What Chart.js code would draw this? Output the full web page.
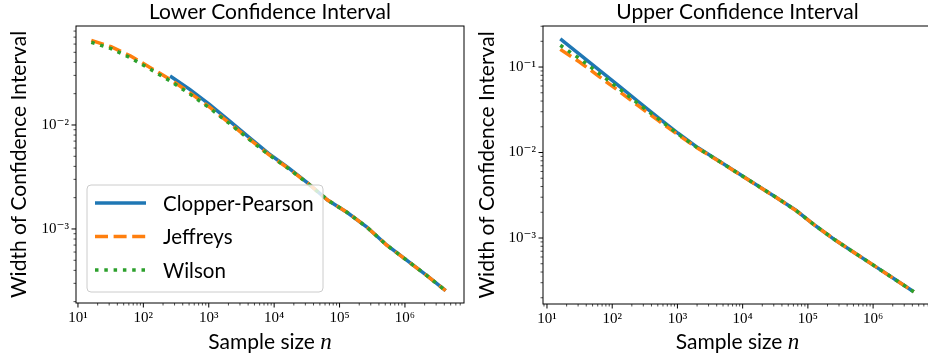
<!DOCTYPE html>
<html lang="en">
<head>
<meta charset="UTF-8">
<title>Confidence interval widths</title>
<script src="https://cdn.jsdelivr.net/npm/chart.js@4.4.1/dist/chart.umd.min.js"></script>
<style>
  html, body { margin: 0; padding: 0; background: #fff; overflow: hidden; }
  #wrap { position: relative; width: 928px; height: 358px; overflow: hidden; }
  canvas { position: absolute; top: 0; }
  #lowerChart { left: 0; }
  #upperChart { left: 470px; }
</style>
</head>
<body>
<div id="wrap">
  <canvas id="lowerChart" width="470" height="358"></canvas>
  <canvas id="upperChart" width="464" height="358"></canvas>
</div>
<script>
// sample sizes n (powers of two)
const sampleSizes = [16, 32, 64, 128, 256, 512, 1024, 2048, 4096, 8192, 16384, 32768,
  65536, 131072, 262144, 524288, 1048576, 2097152, 4194304];

// lower interval widths
const lowerClopper = [null, null, null, null, 0.0296, 0.022, 0.0158, 0.011, 0.00764, 0.00534,
  0.00388, 0.00276, 0.0019, 0.00144, 0.00104, 0.000702, 0.000505, 0.000362, 0.000255];
const lowerJeffreys = [0.0652, 0.0566, 0.046, 0.0356, 0.0275, 0.0205, 0.0149, 0.0105, 0.00738,
  0.00522, 0.00384, 0.00275, 0.0019, 0.00144, 0.00104, 0.0007, 0.000504, 0.000361, 0.000255];
const lowerWilson = [0.0625, 0.0543, 0.0442, 0.0343, 0.0266, 0.0199, 0.0146, 0.0104, 0.00733,
  0.0052, 0.00383, 0.00274, 0.0019, 0.00144, 0.00104, 0.0007, 0.000504, 0.000361, 0.000255];

// upper interval widths
const upperClopper = [0.214, 0.14, 0.0914, 0.0597, 0.039, 0.0255, 0.0168, 0.01143, 0.00817,
  0.00583, 0.00417, 0.00298, 0.00211, 0.00139, 0.000946, 0.000668, 0.000472, 0.000333, 0.000235];
const upperJeffreys = [0.161, 0.1138, 0.0769, 0.052, 0.0348, 0.0236, 0.0161, 0.0112, 0.00812,
  0.0058, 0.00416, 0.00297, 0.0021, 0.00139, 0.000946, 0.000668, 0.000472, 0.000333, 0.000235];
const upperWilson = [0.1795, 0.1247, 0.0834, 0.0557, 0.0368, 0.0247, 0.01644, 0.0113, 0.00815,
  0.00582, 0.00417, 0.00298, 0.0021, 0.00139, 0.000946, 0.000668, 0.000472, 0.000333, 0.000235];

const seriesNames = ['Clopper-Pearson', 'Jeffreys', 'Wilson'];
const xTickValues = [10, 100, 1000, 10000, 100000, 1000000];
const xTickLabels = ['10¹', '10²', '10³', '10⁴', '10⁵', '10⁶'];
const yTickValues = [0.1, 0.01, 0.001];
const yTickLabels = ['10⁻¹', '10⁻²', '10⁻³'];

const sansFont = "Lato, 'Liberation Sans', sans-serif";
const serifFont = "'Liberation Serif', 'DejaVu Serif', serif";
const styles = [
  { color: '#1f77b4', dash: [] },
  { color: '#ff7f0e', dash: [13, 5.6] },
  { color: '#2ca02c', dash: [3.5, 5.8] }
];
const lineW = 3.5;

function isDecade(v) {
  const l = Math.log10(v);
  return Math.abs(l - Math.round(l)) < 1e-9;
}

function logTicks(scale) {
  const out = [];
  const lo = Math.floor(Math.log10(scale.min));
  const hi = Math.ceil(Math.log10(scale.max));
  for (let e = lo; e <= hi; e++) {
    for (let m = 1; m <= 9; m++) {
      const v = m * Math.pow(10, e);
      if (v >= scale.min * 0.9999 && v <= scale.max * 1.0001) out.push({ value: v });
    }
  }
  scale.ticks = out;
}

function tickLabel(values, labels) {
  return function (v) {
    for (let i = 0; i < values.length; i++) {
      if (Math.abs(Math.log10(v) - Math.log10(values[i])) < 1e-9) return labels[i];
    }
    return '';
  };
}

// tick marks (long at decades, short in between), the frame and the x label with italic n
const frameAndTicks = {
  id: 'frameAndTicks',
  afterDraw(chart) {
    const { ctx, chartArea: a } = chart;
    ctx.save();
    ctx.strokeStyle = '#000';
    ['x', 'y'].forEach(id => {
      const s = chart.scales[id];
      s.ticks.forEach(t => {
        const major = isDecade(t.value);
        const len = major ? 4.5 : 2.5;
        const p = s.getPixelForValue(t.value);
        ctx.lineWidth = major ? 1 : 0.7;
        ctx.beginPath();
        if (id === 'x') {
          ctx.moveTo(p, a.bottom);
          ctx.lineTo(p, a.bottom + len);
        } else {
          ctx.moveTo(a.left, p);
          ctx.lineTo(a.left - len, p);
        }
        ctx.stroke();
      });
    });
    ctx.lineWidth = 1;
    ctx.strokeRect(a.left, a.top, a.right - a.left, a.bottom - a.top);

    // "Sample size n"
    const head = 'Sample size ';
    ctx.fillStyle = '#000';
    ctx.textBaseline = 'alphabetic';
    ctx.font = '21px ' + sansFont;
    const w1 = ctx.measureText(head).width;
    ctx.font = 'italic 23px ' + serifFont;
    const w2 = ctx.measureText('n').width;
    const cx = (a.left + Math.min(a.right, 928 - chart.canvas.offsetLeft + 0)) / 2;
    const mid = (a.left + a.right) / 2;
    const x0 = mid - (w1 + w2) / 2;
    const base = chart.height - 9;
    ctx.font = '21px ' + sansFont;
    ctx.fillText(head, x0, base);
    ctx.font = 'italic 23px ' + serifFont;
    ctx.fillText('n', x0 + w1, base);
    ctx.restore();
  }
};

// legend inside the plot, lower left
const insideLegend = {
  id: 'insideLegend',
  afterDatasetsDraw(chart, args, opts) {
    if (!opts.display) return;
    const { ctx, chartArea: a } = chart;
    const w = 236, h = 107;
    const x = a.left + 11, y = a.bottom - 11 - h;
    ctx.save();
    ctx.beginPath();
    ctx.roundRect(x, y, w, h, 4);
    ctx.fillStyle = 'rgba(255,255,255,0.8)';
    ctx.fill();
    ctx.strokeStyle = '#cccccc';
    ctx.lineWidth = 1;
    ctx.stroke();
    chart.data.datasets.forEach((ds, i) => {
      const cy = y + 18 + i * 33.5;
      ctx.beginPath();
      ctx.setLineDash(ds.borderDash || []);
      ctx.strokeStyle = ds.borderColor;
      ctx.lineWidth = ds.borderWidth;
      ctx.moveTo(x + 8, cy);
      ctx.lineTo(x + 59, cy);
      ctx.stroke();
      ctx.setLineDash([]);
      ctx.fillStyle = '#000';
      ctx.font = '20.5px ' + sansFont;
      ctx.textBaseline = 'middle';
      ctx.textAlign = 'left';
      ctx.fillText(ds.label, x + 76, cy + 1);
    });
    ctx.restore();
  }
};

function makeDatasets(lists) {
  return lists.map((vals, i) => ({
    label: seriesNames[i],
    data: sampleSizes.map((n, k) => ({ x: n, y: vals[k] })),
    borderColor: styles[i].color,
    borderDash: styles[i].dash,
    borderWidth: lineW,
    pointRadius: 0,
    tension: 0,
    fill: false,
    order: 3 - i
  }));
}

function makeChart(id, title, lists, cfg) {
  return new Chart(document.getElementById(id), {
    type: 'line',
    data: { datasets: makeDatasets(lists) },
    options: {
      responsive: false,
      animation: false,
      devicePixelRatio: 1,
      layout: { padding: { left: 0, right: cfg.padRight, top: 0, bottom: 0 } },
      plugins: {
        legend: { display: false },
        tooltip: { enabled: false },
        title: {
          display: true, text: title, color: '#000', fullSize: false,
          font: { family: sansFont, size: 21, weight: 'normal' },
          padding: { top: 0, bottom: 0.8 }
        },
        insideLegend: { display: cfg.legend }
      },
      scales: {
        x: {
          type: 'logarithmic',
          min: Math.pow(10, cfg.xRange[0]), max: Math.pow(10, cfg.xRange[1]),
          grid: { display: false, drawTicks: true, tickLength: 4 },
          border: { display: false },
          afterBuildTicks: logTicks,
          afterFit(s) { s.height = cfg.xAxisH; },
          ticks: {
            autoSkip: false, maxRotation: 0, minRotation: 0, padding: 2, color: '#000',
            font: { family: serifFont, size: 15 },
            callback: tickLabel(xTickValues, xTickLabels)
          },
          title: { display: false }
        },
        y: {
          type: 'logarithmic',
          min: Math.pow(10, cfg.yRange[0]), max: Math.pow(10, cfg.yRange[1]),
          grid: { display: false, drawTicks: true, tickLength: 4 },
          border: { display: false },
          afterBuildTicks: logTicks,
          afterFit(s) { s.width = cfg.yAxisW; },
          ticks: {
            autoSkip: false, padding: 3, color: '#000',
            font: { family: serifFont, size: 15 },
            callback: tickLabel(yTickValues, yTickLabels)
          },
          title: {
            display: true, text: 'Width of Confidence Interval', color: '#000',
            font: { family: sansFont, size: 21 },
            padding: { top: cfg.yTitlePad, bottom: 0 }
          }
        }
      }
    },
    plugins: [insideLegend, frameAndTicks]
  });
}

makeChart('lowerChart', 'Lower Confidence Interval', [lowerClopper, lowerJeffreys, lowerWilson], {
  xRange: [0.97, 6.903], yRange: [-3.712, -1.048],
  yAxisW: 76, xAxisH: 55, padRight: 6, yTitlePad: 6.4, legend: true
});

makeChart('upperChart', 'Upper Confidence Interval', [upperClopper, upperJeffreys, upperWilson], {
  xRange: [0.939, 6.903], yRange: [-3.772, -0.52],
  yAxisW: 73, xAxisH: 54, padRight: 2, yTitlePad: 4.4, legend: false
});
</script>
</body>
</html>
